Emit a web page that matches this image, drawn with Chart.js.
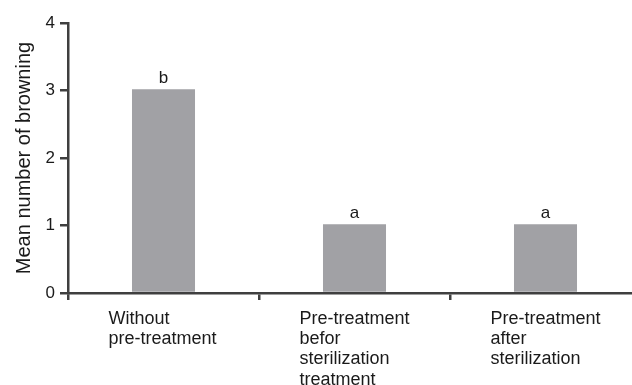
<!DOCTYPE html>
<html>
<head>
<meta charset="utf-8">
<script src="https://cdn.jsdelivr.net/npm/chart.js@4.4.0/dist/chart.umd.min.js"></script>
<style>
  html, body { margin: 0; padding: 0; background: #fff; overflow: hidden; }
  #chart { position: absolute; left: 0; top: 0; }
</style>
</head>
<body>
<canvas id="chart" width="645" height="385"></canvas>
<script>
// data
const categories = [
  ['Without', 'pre-treatment'],
  ['Pre-treatment', 'befor', 'sterilization', 'treatment'],
  ['Pre-treatment', 'after', 'sterilization']
];
const browning = [3.02, 1.02, 1.02];
const letters = ['b', 'a', 'a'];
const yTicks = [0, 1, 2, 3, 4];

const AXIS = '#3f3f3f';
const TEXT = '#1a1a1a';
const FONT = "'Liberation Sans', Arial, sans-serif";

// letters above the bars
const letterPlugin = {
  id: 'letters',
  afterDatasetsDraw(chart) {
    const ctx = chart.ctx;
    const bars = chart.getDatasetMeta(0).data;
    ctx.save();
    ctx.fillStyle = TEXT;
    ctx.font = '17px ' + FONT;
    ctx.textAlign = 'center';
    ctx.textBaseline = 'alphabetic';
    bars.forEach((bar, i) => {
      ctx.fillText(letters[i], bar.x, bar.y - 6);
    });
    ctx.restore();
  }
};

new Chart(document.getElementById('chart'), {
  type: 'bar',
  data: {
    labels: categories,
    datasets: [{
      data: browning,
      backgroundColor: '#a1a1a5',
      borderWidth: 0,
      barPercentage: 0.33,
      categoryPercentage: 1
    }]
  },
  options: {
    responsive: false,
    animation: false,
    devicePixelRatio: 1,
    // canvas is a bit wider than the window: the last category runs past the edge
    layout: { autoPadding: false, padding: { left: 0, right: 4, top: 23, bottom: 0 } },
    plugins: { legend: { display: false }, tooltip: { enabled: false } },
    scales: {
      x: {
        offset: true,
        afterFit: (s) => { s.height = 92; s.paddingLeft = 0; s.paddingRight = 0; },
        border: { display: true, color: AXIS, width: 2.5 },
        grid: { display: true, offset: true, drawOnChartArea: false, drawTicks: true, tickLength: 7, color: AXIS, lineWidth: 2.5 },
        ticks: {
          align: 'start',
          labelOffset: -55,
          padding: 9,
          maxRotation: 0,
          autoSkip: false,
          color: TEXT,
          font: { family: FONT, size: 18, lineHeight: 1.12 }
        }
      },
      y: {
        min: 0,
        max: 4,
        afterFit: (s) => { s.width = 68; s.paddingTop = 0; s.paddingBottom = 0; },
        afterBuildTicks: (s) => { s.ticks = yTicks.map(v => ({ value: v })); },
        border: { display: true, color: AXIS, width: 2.5 },
        grid: { display: true, drawOnChartArea: false, drawTicks: true, tickLength: 8, color: AXIS, lineWidth: 2.5 },
        ticks: { padding: 5, color: TEXT, font: { family: FONT, size: 17 } },
        title: {
          display: true,
          text: 'Mean number of browning',
          color: TEXT,
          padding: { top: 12, bottom: 0 },
          font: { family: FONT, size: 20 }
        }
      }
    }
  },
  plugins: [letterPlugin]
});
</script>
</body>
</html>
